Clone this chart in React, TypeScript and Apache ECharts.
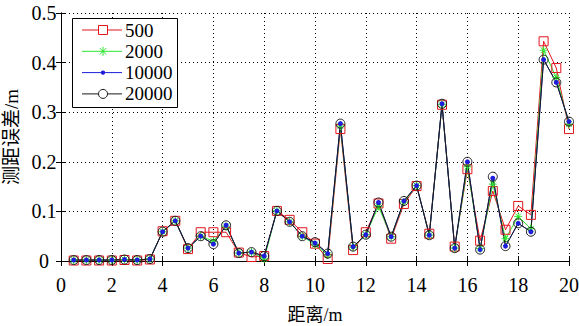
import React, { useEffect, useRef } from 'react';
import * as echarts from 'echarts';

const distances = [0.5, 1, 1.5, 2, 2.5, 3, 3.5, 4, 4.5, 5, 5.5, 6, 6.5, 7, 7.5, 8, 8.5, 9, 9.5, 10, 10.5, 11, 11.5, 12, 12.5, 13, 13.5, 14, 14.5, 15, 15.5, 16, 16.5, 17, 17.5, 18, 18.5, 19, 19.5, 20];
const err500 = [0.001, 0.001, 0.001, 0.001, 0.002, 0.001, 0.003, 0.06, 0.081, 0.024, 0.058, 0.058, 0.058, 0.017, 0.008, 0.01, 0.101, 0.083, 0.058, 0.035, 0.004, 0.266, 0.022, 0.058, 0.116, 0.045, 0.115, 0.151, 0.055, 0.315, 0.029, 0.185, 0.041, 0.141, 0.063, 0.111, 0.093, 0.443, 0.389, 0.266];
const err2000 = [0.002, 0.002, 0.002, 0.002, 0.003, 0.002, 0.004, 0.059, 0.081, 0.026, 0.05, 0.04, 0.07, 0.016, 0.018, 0.004, 0.101, 0.079, 0.05, 0.033, 0.012, 0.272, 0.028, 0.053, 0.11, 0.049, 0.119, 0.152, 0.052, 0.316, 0.026, 0.19, 0.025, 0.155, 0.045, 0.09, 0.065, 0.425, 0.37, 0.276];
const err10000 = [0.002, 0.002, 0.002, 0.002, 0.003, 0.002, 0.004, 0.059, 0.081, 0.026, 0.05, 0.034, 0.072, 0.016, 0.018, 0.01, 0.101, 0.079, 0.05, 0.036, 0.015, 0.277, 0.029, 0.053, 0.118, 0.049, 0.121, 0.152, 0.052, 0.317, 0.026, 0.2, 0.023, 0.167, 0.03, 0.076, 0.059, 0.406, 0.36, 0.281];
const err20000 = [0.002, 0.002, 0.002, 0.002, 0.003, 0.002, 0.004, 0.059, 0.081, 0.026, 0.05, 0.034, 0.072, 0.016, 0.018, 0.01, 0.101, 0.079, 0.05, 0.038, 0.015, 0.277, 0.029, 0.053, 0.118, 0.049, 0.121, 0.152, 0.052, 0.317, 0.026, 0.2, 0.023, 0.17, 0.03, 0.076, 0.059, 0.406, 0.36, 0.281];
const seriesNames = ['500', '2000', '10000', '20000'];
const xAxisName = '距离/m';
const yAxisName = '测距误差/m';

const RED = '#e3151d';
const GREEN = '#2ee82e';
const BLUE = '#1d1ddb';
const BLACK = '#1a1a1a';
const SERIF = 'Liberation Serif';
const CJK = 'Liberation Serif, Noto Sans CJK SC';
const STAR = 'path://M5,0L5,10M0,5L10,5M1.5,1.5L8.5,8.5M1.5,8.5L8.5,1.5';

export default function App() {
  const ref = useRef<HTMLDivElement>(null);
  useEffect(() => {
    if (!ref.current) return;
    const chart = echarts.init(ref.current, undefined, { renderer: 'svg' });
    const toPts = (vals: number[]) => distances.map((d, i) => [d, vals[i]]);
    const axisCommon = {
      axisLine: { show: true, lineStyle: { color: '#000', width: 1 } },
      axisTick: { show: true, inside: true, length: 5, lineStyle: { color: '#000' } },
    };
    const legendTop = 30;
    const legendStep = 21.3;
    const legendEls: any[] = [
      { type: 'rect', shape: { x: 72.5, y: 18.5, width: 105, height: 89 }, style: { fill: '#fff', stroke: '#000', lineWidth: 1 }, z: 100 },
    ];
    const colors = [RED, GREEN, BLUE, BLACK];
    seriesNames.forEach((name, i) => {
      const y = legendTop + i * legendStep;
      legendEls.push({ type: 'line', shape: { x1: 82, y1: y, x2: 122, y2: y }, style: { stroke: colors[i], lineWidth: 1 }, z: 101 });
      legendEls.push({ type: 'text', x: 125, y: y, style: { text: name, fontSize: 19, fontFamily: SERIF, fill: '#000', verticalAlign: 'middle', align: 'left' }, z: 101 });
    });
    const cx = 103;
    legendEls.push({ type: 'rect', shape: { x: cx - 4.5, y: legendTop - 4.5, width: 9, height: 9 }, style: { fill: '#fff', stroke: RED, lineWidth: 1 }, z: 102 });
    const gy = legendTop + legendStep;
    legendEls.push({ type: 'line', shape: { x1: cx, y1: gy - 4.5, x2: cx, y2: gy + 4.5 }, style: { stroke: GREEN, lineWidth: 1 }, z: 102 });
    legendEls.push({ type: 'line', shape: { x1: cx - 3.2, y1: gy - 3.2, x2: cx + 3.2, y2: gy + 3.2 }, style: { stroke: GREEN, lineWidth: 1 }, z: 102 });
    legendEls.push({ type: 'line', shape: { x1: cx - 3.2, y1: gy + 3.2, x2: cx + 3.2, y2: gy - 3.2 }, style: { stroke: GREEN, lineWidth: 1 }, z: 102 });
    legendEls.push({ type: 'circle', shape: { cx, cy: legendTop + 2 * legendStep, r: 2.2 }, style: { fill: BLUE }, z: 102 });
    legendEls.push({ type: 'circle', shape: { cx, cy: legendTop + 3 * legendStep, r: 4.5 }, style: { fill: '#fff', stroke: BLACK, lineWidth: 1 }, z: 102 });

    chart.setOption({
      animation: false,
      backgroundColor: '#fff',
      textStyle: { fontFamily: SERIF },
      grid: { left: 61, top: 13, right: 10, bottom: 65, containLabel: false, outerBoundsMode: 'none' },
      xAxis: [
        {
          type: 'value', min: 0, max: 20, interval: 2, position: 'bottom',
          ...axisCommon,
          axisLabel: { color: '#000', fontSize: 20, fontFamily: SERIF, margin: 14 },
          splitLine: { show: true, lineStyle: { color: '#000', type: [1, 3], width: 1 } },
          name: xAxisName, nameLocation: 'middle', nameGap: 45,
          nameTextStyle: { color: '#000', fontSize: 18, fontFamily: CJK },
        },
        {
          type: 'value', min: 0, max: 20, interval: 2, position: 'top',
          ...axisCommon,
          axisLabel: { show: false }, splitLine: { show: false },
        },
      ],
      yAxis: [
        {
          type: 'value', min: 0, max: 0.5, interval: 0.1, position: 'left',
          ...axisCommon,
          axisLabel: {
            color: '#000', fontSize: 20, fontFamily: SERIF, margin: 17, align: 'center',
            formatter: (v: number) => String(Math.round(v * 10) / 10),
          },
          splitLine: { show: true, lineStyle: { color: '#000', type: [1, 3], width: 1 } },
          name: yAxisName, nameLocation: 'middle', nameGap: 36, nameRotate: 90,
          nameTextStyle: { color: '#000', fontSize: 19, fontFamily: CJK },
        },
        {
          type: 'value', min: 0, max: 0.5, interval: 0.1, position: 'right',
          ...axisCommon,
          axisLabel: { show: false }, splitLine: { show: false },
        },
      ],
      series: [
        {
          name: seriesNames[0], type: 'line', data: toPts(err500), clip: false,
          symbol: 'rect', symbolSize: 9,
          lineStyle: { color: RED, width: 1 },
          itemStyle: { color: 'rgba(0,0,0,0)', borderColor: RED, borderWidth: 1 },
        },
        {
          name: seriesNames[1], type: 'line', data: toPts(err2000), clip: false,
          symbol: STAR, symbolSize: 8,
          lineStyle: { color: GREEN, width: 1 },
          itemStyle: { color: 'rgba(0,0,0,0)', borderColor: GREEN, borderWidth: 1 },
        },
        {
          name: seriesNames[2], type: 'line', data: toPts(err10000), clip: false,
          symbol: 'circle', symbolSize: 5,
          lineStyle: { color: BLUE, width: 1 },
          itemStyle: { color: BLUE, borderWidth: 0 },
        },
        {
          name: seriesNames[3], type: 'line', data: toPts(err20000), clip: false,
          symbol: 'circle', symbolSize: 9,
          lineStyle: { color: BLACK, width: 1 },
          itemStyle: { color: 'rgba(0,0,0,0)', borderColor: BLACK, borderWidth: 1 },
        },
      ],
      graphic: legendEls,
    });
    return () => chart.dispose();
  }, []);
  return <div ref={ref} style={{ position: 'fixed', left: 0, top: 0, width: 579, height: 326, background: '#fff' }} />;
}
